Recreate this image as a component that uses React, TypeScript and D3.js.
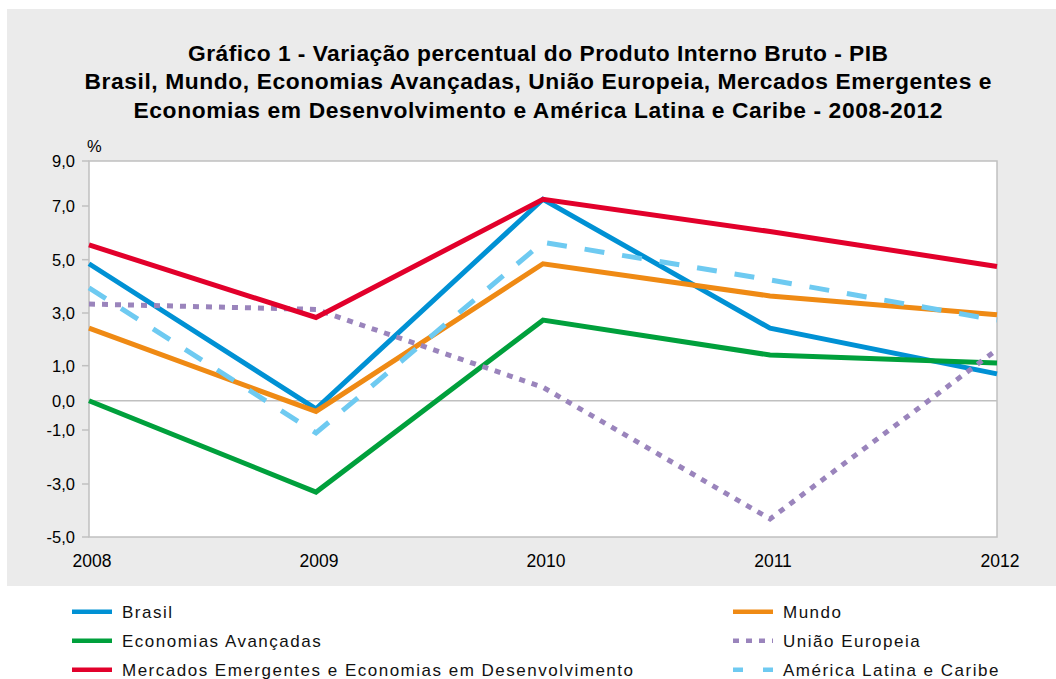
import * as d3 from 'd3';

// Years and GDP growth (%) per group
const years = ['2008', '2009', '2010', '2011', '2012'];
const brasil = [5.1, -0.3, 7.5, 2.7, 1.0];
const mundo = [2.7, -0.4, 5.1, 3.9, 3.2];
const avancadas = [0.0, -3.4, 3.0, 1.7, 1.4];
const uniaoEuropeia = [3.6, 3.4, 0.5, -4.4, 1.9];
const emergentes = [5.8, 3.1, 7.5, 6.3, 5.0];
const americaLatina = [4.2, -1.2, 5.9, 4.5, 3.0];

// Axis tick labels as printed in the original (their spacing is not even)
const tickValues = [9, 7, 5, 3, 1, 0, -1, -3, -5];
const tickPositions = [161, 206, 259.7, 313, 365.7, 400.7, 430, 484, 537];

const series = [
  { name: 'Brasil', values: brasil, color: '#0091d4', dash: null, col: 0, row: 0 },
  { name: 'Mundo', values: mundo, color: '#ef8a14', dash: null, col: 1, row: 0 },
  { name: 'Economias Avançadas', values: avancadas, color: '#00a03c', dash: null, col: 0, row: 1 },
  { name: 'União Europeia', values: uniaoEuropeia, color: '#9a84bc', dash: '6,7', col: 1, row: 1 },
  { name: 'Mercados Emergentes e Economias em Desenvolvimento', values: emergentes, color: '#e2002b', dash: null, col: 0, row: 2 },
  { name: 'América Latina e Caribe', values: americaLatina, color: '#6ecaf1', dash: '20,18', col: 1, row: 2 },
];

const titleLines = [
  { text: 'Gráfico 1 - Variação percentual do Produto Interno Bruto - PIB', len: 700 },
  { text: 'Brasil, Mundo, Economias Avançadas, União Europeia, Mercados Emergentes e', len: 907 },
  { text: 'Economias em Desenvolvimento e América Latina e Caribe - 2008-2012', len: 809 },
];

const fmt = (v: number) => v.toFixed(1).replace('.', ',');

export default function App() {
  const width = 1056;
  const height = 679;
  const font = '"Liberation Sans", Arial, Helvetica, sans-serif';

  const x = d3.scalePoint().domain(years).range([89, 997]);
  // axis label scale (piecewise, as in the source) and data scale (linear)
  const yAxis = d3.scaleLinear().domain(tickValues).range(tickPositions);
  const y = d3.scaleLinear().domain([-5, 9]).range([535, 159]);

  const line = d3
    .line<number>()
    .x((d, i) => x(years[i]) as number)
    .y(d => y(d));

  const left = x(years[0]) as number;
  const right = x(years[years.length - 1]) as number;
  const top = yAxis(9);
  const bottom = yAxis(-5);

  const legendX = [72, 733];
  const legendY = [611.7, 640.7, 669.7];

  return (
    <svg
      width={width}
      height={height}
      style={{ position: 'absolute', left: 0, top: 0 }}
      fontFamily={font}
    >
      <rect x={0} y={0} width={width} height={height} fill="#ffffff" />
      <rect x={7} y={9} width={width - 7} height={577} fill="#ebebeb" />

      {titleLines.map((t, i) => (
        <text
          key={i}
          x={538}
          y={61 + i * 28.3}
          textAnchor="middle"
          fontSize={22.8}
          fontWeight="bold"
          fill="#000"
          textLength={t.len}
          lengthAdjust="spacing"
        >
          {t.text}
        </text>
      ))}

      {/* plot area */}
      <rect x={left} y={top} width={right - left} height={bottom - top} fill="#ffffff" stroke="#c0c0c0" strokeWidth={1.5} />
      <line x1={left} x2={right} y1={yAxis(0)} y2={yAxis(0)} stroke="#c0c0c0" strokeWidth={1.5} />

      <text x={87} y={152} fontSize={16.5} fill="#000">%</text>

      {tickValues.map((v, i) => (
        <g key={i}>
          {v !== 0 && (
            <line x1={left - 7} x2={left} y1={yAxis(v)} y2={yAxis(v)} stroke="#c0c0c0" strokeWidth={1.5} />
          )}
          <text x={75} y={yAxis(v)} dy="0.36em" textAnchor="end" fontSize={16.5} fill="#000">
            {fmt(v)}
          </text>
        </g>
      ))}

      {years.map(yr => (
        <text key={yr} x={(x(yr) as number) + 3} y={567} textAnchor="middle" fontSize={17.5} fill="#000">
          {yr}
        </text>
      ))}

      {series.map(s => (
        <path
          key={s.name}
          d={line(s.values) ?? ''}
          fill="none"
          stroke={s.color}
          strokeWidth={5}
          strokeDasharray={s.dash ?? undefined}
          strokeLinejoin="miter"
        />
      ))}

      {/* legend */}
      {series.map(s => (
        <g key={s.name} transform={`translate(${legendX[s.col]}, ${legendY[s.row]})`}>
          <line
            x1={0}
            x2={40}
            y1={0}
            y2={0}
            stroke={s.color}
            strokeWidth={4.5}
            strokeDasharray={s.dash ? (s.dash === '20,18' ? '10,20' : s.dash) : undefined}
          />
          <text x={50} y={6} fontSize={17} letterSpacing={1.5} fill="#111">
            {s.name}
          </text>
        </g>
      ))}
    </svg>
  );
}
